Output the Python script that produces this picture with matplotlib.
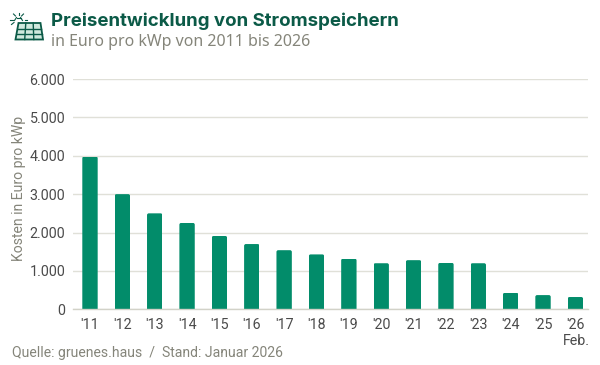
import matplotlib
matplotlib.use("Agg")
import matplotlib.pyplot as plt
from matplotlib.patches import FancyBboxPatch, Polygon
from matplotlib.lines import Line2D
from matplotlib.ticker import FuncFormatter

years = ["'11", "'12", "'13", "'14", "'15", "'16", "'17", "'18", "'19", "'20", "'21", "'22", "'23", "'24", "'25", "'26"]
prices = [3980, 3000, 2500, 2250, 1910, 1700, 1540, 1430, 1320, 1200, 1280, 1210, 1200, 430, 370, 320]
y_ticks = [0, 1000, 2000, 3000, 4000, 5000, 6000]

GREEN = "#028c6a"
DARK = "#0b5a47"
GREY = "#85857a"
TXT = "#4a4a4a"
W, H = 600, 365
plt.rcParams["font.family"] = ["Roboto", "DejaVu Sans"]

fig = plt.figure(figsize=(6, 3.65), dpi=100, facecolor="white")
L, R, T, B = 73, 588, 79, 309.3
ax = fig.add_axes([L / W, 1 - B / H, (R - L) / W, (B - T) / H])
ax.set_xlim(-0.525, 15.39)
ax.set_ylim(0, 6000)

x = list(range(len(years)))
bars = ax.bar(x, prices, width=0.475, color=GREEN, linewidth=0, zorder=2)
px_x = (R - L) / (15.39 + 0.525)
px_y = (B - T) / 6000
for b in bars:
    clip = FancyBboxPatch((b.get_x(), -300), b.get_width(), b.get_height() + 300,
                          boxstyle="round,pad=0,rounding_size=0.055",
                          mutation_aspect=px_x / px_y, transform=ax.transData)
    b.set_clip_path(clip)

for s in ["top", "right", "left"]:
    ax.spines[s].set_visible(False)
ax.spines["bottom"].set_color("#d2d2c8")
ax.spines["bottom"].set_linewidth(1.0)
ax.spines["bottom"].set_zorder(3)
ax.set_yticks(y_ticks)
ax.yaxis.set_major_formatter(FuncFormatter(lambda v, _: f"{int(v):,}".replace(",", ".")))
ax.grid(axis="y", color="#e0e0d8", linewidth=1.0, zorder=0)
ax.set_axisbelow(True)
ax.set_xticks(x)
ax.set_xticklabels(years)
ax.tick_params(axis="both", length=0, labelsize=10.3, labelcolor=TXT)
ax.tick_params(axis="y", pad=5.5)
ax.tick_params(axis="x", pad=6)

def fx(px): return px / W
def fy(py): return 1 - py / H

fig.text(fx(19), fy(188), "Kosten in Euro pro kWp", rotation=90, ha="center", va="center",
         fontsize=10.1, color=GREY)
fig.text(fx(589.5), fy(345), "Feb.", ha="right", va="baseline", fontsize=10.3, color=TXT)
fig.text(fx(51), fy(26.5), "Preisentwicklung von Stromspeichern", ha="left", va="baseline",
         fontsize=13.45, fontweight="bold", color=DARK, family=["Inter", "DejaVu Sans"])
fig.text(fx(51), fy(46.5), "in Euro pro kWp von 2011 bis 2026", ha="left", va="baseline",
         fontsize=11.45, color=GREY, family=["Noto Sans", "DejaVu Sans"])
fig.text(fx(12), fy(357), "Quelle: gruenes.haus  /  Stand: Januar 2026", ha="left", va="baseline",
         fontsize=10.05, color=GREY)

# solar panel icon
fig.add_artist(Polygon([[fx(18.5), fy(23)], [fx(40.5), fy(23)], [fx(43), fy(39.5)], [fx(15.5), fy(39.5)]],
                       closed=True, facecolor="#cfe9dd", edgecolor=DARK, linewidth=1.3,
                       transform=fig.transFigure))
for py in (28.5, 34):
    t = (py - 23) / 16.5
    fig.add_artist(Line2D([fx(18.5 - 3 * t), fx(40.5 + 2.5 * t)], [fy(py), fy(py)], color=DARK, lw=1.0))
for a, b2 in ((25.8, 24.7), (33.2, 33.8)):
    fig.add_artist(Line2D([fx(a), fx(b2)], [fy(23), fy(39.5)], color=DARK, lw=1.0))
for p in [((18.5, 12.5), (18.5, 15)), ((13.5, 14), (15.5, 16)), ((23.5, 14), (21.5, 16)),
          ((10, 19.5), (13, 19.5)), ((11.5, 24.5), (14, 22.5)), ((24.5, 19.5), (26.5, 19.5)),
          ((14.5, 20.5), (16.5, 17.5)), ((16.5, 17.5), (20.5, 17.5)), ((20.5, 17.5), (22.5, 20.5))]:
    fig.add_artist(Line2D([fx(p[0][0]), fx(p[1][0])], [fy(p[0][1]), fy(p[1][1])], color=DARK, lw=0.8))

fig.savefig("out.png", dpi=100, facecolor="white")
